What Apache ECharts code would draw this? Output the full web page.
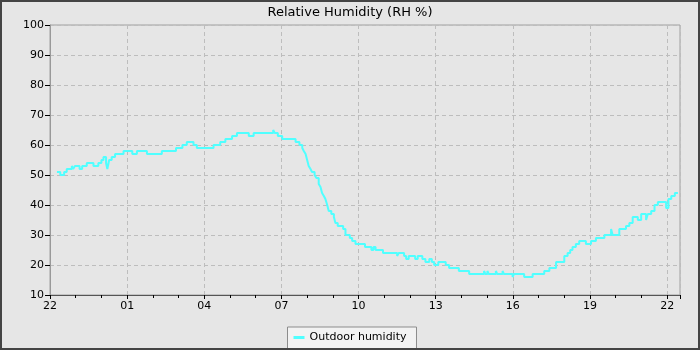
<!DOCTYPE html>
<html>
<head>
<meta charset="utf-8">
<script src="https://cdn.jsdelivr.net/npm/echarts@6/dist/echarts.min.js"></script>
<style>
  html, body { margin: 0; padding: 0; background: #e6e6e6; }
  #chart { width: 700px; height: 350px; }
</style>
</head>
<body>
<div id="chart"></div>
<script>
// Hours elapsed since 22:00 on the first day
const hoursSinceStart = [
  0.27, 0.40, 0.55, 0.65, 0.85, 0.90, 0.97, 1.15, 1.25, 1.43,
  1.69, 1.88, 2.00, 2.08, 2.18, 2.23, 2.30, 2.40, 2.53, 2.86,
  3.20, 3.38, 3.77, 4.35, 4.90, 5.15, 5.32, 5.58, 5.71, 6.36,
  6.62, 6.82, 7.08, 7.27, 7.73, 7.92, 8.68, 8.74, 8.86, 9.03,
  9.55, 9.70, 9.81, 9.87, 9.94, 10.00, 10.06, 10.13, 10.19, 10.29,
  10.36, 10.45, 10.52, 10.58, 10.65, 10.71, 10.78, 10.84, 10.94, 11.04,
  11.10, 11.19, 11.40, 11.49, 11.66, 11.75, 11.88, 12.25, 12.50, 12.58,
  12.66, 12.95, 13.25, 13.50, 13.56, 13.77, 13.85, 13.95, 14.20, 14.30,
  14.48, 14.60, 14.75, 14.85, 14.94, 15.10, 15.39, 15.52, 15.90, 16.04,
  16.30, 16.88, 16.93, 17.01, 17.06, 17.34, 17.39, 17.60, 17.65, 17.99,
  18.04, 18.44, 18.77, 19.22, 19.42, 19.68, 20.00, 20.13, 20.23, 20.32,
  20.45, 20.58, 20.84, 21.04, 21.23, 21.56, 21.82, 21.88, 22.14, 22.40,
  22.53, 22.66, 22.86, 22.99, 23.18, 23.25, 23.38, 23.51, 23.64, 23.96,
  24.05, 24.16, 24.30, 24.42
];

// Outdoor relative humidity (%) at each of those times
const outdoorHumidity = [
  51, 50, 51, 52, 53, 52, 53, 52, 53, 54,
  53, 54, 55, 56, 54, 52, 55, 56, 57, 58,
  57, 58, 57, 58, 59, 60, 61, 60, 59, 60,
  61, 62, 63, 64, 63, 64, 65, 64, 63, 62,
  61, 60, 59, 58, 57, 55, 53, 52, 51, 50,
  49, 47, 46, 44, 43, 42, 40, 38, 37, 36,
  34, 33, 32, 30, 29, 28, 27, 26, 25, 26,
  25, 24, 24, 23, 24, 23, 22, 23, 22, 23,
  22, 21, 22, 21, 20, 21, 20, 19, 18, 18,
  17, 18, 17, 18, 17, 18, 17, 18, 17, 16,
  17, 16, 17, 18, 19, 21, 23, 24, 25, 26,
  27, 28, 27, 28, 29, 30, 32, 30, 32, 33,
  34, 36, 35, 37, 35, 37, 38, 40, 41, 39,
  42, 43, 44, 44
];

const xTickLabels = ['22', '01', '04', '07', '10', '13', '16', '19', '22'];
const yTicks = [10, 20, 30, 40, 50, 60, 70, 80, 90, 100];

const chart = echarts.init(document.getElementById('chart'), null, { renderer: 'canvas' });
const fontFamily = 'DejaVu Sans';
const gridDash = { color: '#bdbdbd', width: 1, type: [4, 3] };

chart.setOption({
  animation: false,
  backgroundColor: '#e6e6e6',
  textStyle: { fontFamily: fontFamily },
  title: {
    text: 'Relative Humidity (RH %)',
    left: 'center',
    top: 1,
    textStyle: { fontFamily: fontFamily, fontSize: 13, fontWeight: 'normal', color: '#000' }
  },
  grid: {
    left: 50, right: 20, top: 25, bottom: 55,
    show: true, borderColor: '#a0a0a0', borderWidth: 1, backgroundColor: 'transparent'
  },
  legend: {
    bottom: 1,
    left: 'center',
    data: ['Outdoor humidity'],
    icon: 'rect',
    itemWidth: 11,
    itemHeight: 3,
    itemGap: 6,
    padding: [5, 10, 6, 6],
    backgroundColor: '#f2f2f2',
    borderColor: '#8c8c8c',
    borderWidth: 1,
    borderRadius: 0,
    textStyle: { fontFamily: fontFamily, fontSize: 11, color: '#000' }
  },
  xAxis: {
    type: 'value',
    min: 0,
    max: 24.5,
    interval: 3,
    axisLine: { show: true, lineStyle: { color: '#555', width: 1 } },
    axisTick: { show: true, length: 4, lineStyle: { color: '#000' } },
    minorTick: { show: true, splitNumber: 3, length: 3, lineStyle: { color: '#000' } },
    axisLabel: {
      color: '#000', fontSize: 11, margin: 6, fontFamily: fontFamily,
      showMaxLabel: false,
      formatter: function (v) {
        const i = Math.round(v / 3);
        return Math.abs(v - i * 3) < 1e-6 && i < xTickLabels.length ? xTickLabels[i] : '';
      }
    },
    splitLine: { show: true, lineStyle: gridDash }
  },
  yAxis: {
    type: 'value',
    min: yTicks[0],
    max: yTicks[yTicks.length - 1],
    interval: 10,
    axisLine: { show: true, lineStyle: { color: '#999', width: 1 } },
    axisTick: { show: true, length: 5, lineStyle: { color: '#000' } },
    axisLabel: { color: '#000', fontSize: 11, margin: 6, fontFamily: fontFamily },
    splitLine: { show: true, lineStyle: gridDash }
  },
  graphic: [{
    type: 'rect',
    z: 100,
    silent: true,
    shape: { x: 1, y: 1, width: 698, height: 348 },
    style: { fill: null, stroke: '#444', lineWidth: 2 }
  }],
  series: [{
    name: 'Outdoor humidity',
    type: 'line',
    step: 'end',
    showSymbol: false,
    symbol: 'none',
    color: '#50ffff',
    lineStyle: { color: '#50ffff', width: 2 },
    data: hoursSinceStart.map(function (h, i) { return [h, outdoorHumidity[i]]; })
  }]
});
</script>
</body>
</html>
